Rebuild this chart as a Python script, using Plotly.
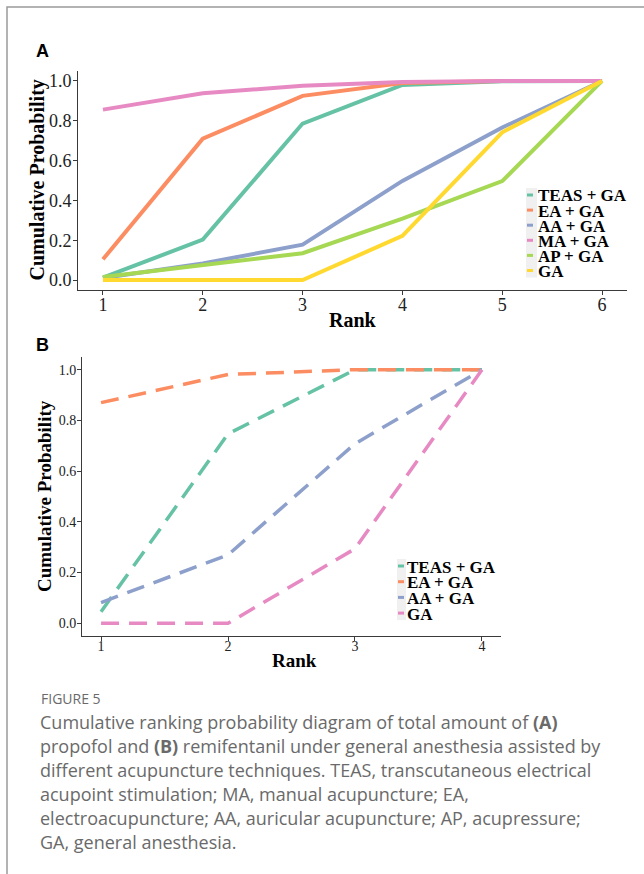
import plotly.graph_objects as go

W, H = 644, 874

# ---------------- data ----------------
ranks_a = [1, 2, 3, 4, 5, 6]
series_a_names = ["TEAS + GA", "EA + GA", "AA + GA", "MA + GA", "AP + GA", "GA"]
teas_a = [0.012, 0.203, 0.786, 0.980, 0.998, 1.0]
ea_a = [0.104, 0.710, 0.925, 0.990, 1.0, 1.0]
aa_a = [0.010, 0.083, 0.178, 0.498, 0.766, 1.0]
ma_a = [0.856, 0.938, 0.976, 0.995, 1.0, 1.0]
ap_a = [0.015, 0.073, 0.135, 0.309, 0.497, 1.0]
ga_a = [0.0, 0.0, 0.0, 0.222, 0.742, 1.0]

ranks_b = [1, 2, 3, 4]
series_b_names = ["TEAS + GA", "EA + GA", "AA + GA", "GA"]
teas_b = [0.046, 0.747, 1.0, 1.0]
ea_b = [0.870, 0.981, 1.0, 1.0]
aa_b = [0.082, 0.270, 0.708, 1.0]
ga_b = [0.0, 0.0, 0.294, 1.0]

yticks = [0.0, 0.2, 0.4, 0.6, 0.8, 1.0]

colors_a = ["#66C2A5", "#FC8D62", "#8DA0CB", "#E78AC3", "#A6D854", "#FFD92F"]
colors_b = ["#66C2A5", "#FC8D62", "#8DA0CB", "#E78AC3"]

x_title = "Rank"
y_title = "Cumulative Probability"
caption_title = "FIGURE 5"
caption_lines = [
    "Cumulative ranking probability diagram of total amount of <b>(A)</b>",
    "propofol and <b>(B)</b> remifentanil under general anesthesia assisted by",
    "different acupuncture techniques. TEAS, transcutaneous electrical",
    "acupoint stimulation; MA, manual acupuncture; EA,",
    "electroacupuncture; AA, auricular acupuncture; AP, acupressure;",
    "GA, general anesthesia.",
]

# ---------------- helpers ----------------
def px(x):
    return x / W


def py(y):
    return 1 - y / H


SERIF = "Liberation Serif, Times New Roman, serif"
SANS = "Liberation Sans, Arial, sans-serif"
CAP = "Open Sans, Noto Sans, sans-serif"
AXC = "#3a3a3a"

fig = go.Figure()

for name, vals, col in zip(series_a_names, [teas_a, ea_a, aa_a, ma_a, ap_a, ga_a], colors_a):
    fig.add_trace(go.Scatter(x=ranks_a, y=vals, mode="lines", name=name,
                             line=dict(color=col, width=4), showlegend=False,
                             xaxis="x", yaxis="y"))

for name, vals, col in zip(series_b_names, [teas_b, ea_b, aa_b, ga_b], colors_b):
    fig.add_trace(go.Scatter(x=ranks_b, y=vals, mode="lines", name=name,
                             line=dict(color=col, width=3.5, dash="18px,10px"),
                             showlegend=False, xaxis="x2", yaxis="y2"))

common_axis = dict(showline=True, linecolor=AXC, linewidth=1, ticks="outside",
                   ticklen=4, tickcolor=AXC, tickwidth=1, showgrid=False,
                   zeroline=False, automargin=False)

fig.update_layout(
    width=W, height=H,
    margin=dict(l=0, r=0, t=0, b=0),
    paper_bgcolor="white", plot_bgcolor="white",
    showlegend=False,
    xaxis=dict(domain=[px(78), px(627)], range=[0.75, 6.25], tickvals=ranks_a,
               anchor="y", tickfont=dict(family=SERIF, size=18, color="#222"),
               ticklabelstandoff=-6, **common_axis),
    yaxis=dict(domain=[py(290), py(71)], range=[-0.05, 1.05], tickvals=yticks,
               tickformat=".1f", anchor="x", ticklabelstandoff=-2,
               tickfont=dict(family=SERIF, size=18, color="#222"), **common_axis),
    xaxis2=dict(domain=[px(82), px(501)], range=[0.85, 4.15], tickvals=ranks_b,
                anchor="y2", tickfont=dict(family=SERIF, size=14, color="#222"),
                ticklabelstandoff=-7, **common_axis),
    yaxis2=dict(domain=[py(636), py(357)], range=[-0.05, 1.05], tickvals=yticks,
                tickformat=".1f", anchor="x2", ticklabelstandoff=-2,
                tickfont=dict(family=SERIF, size=14, color="#222"), **common_axis),
)

shapes = []
annotations = []

# outer frame (left and top edges visible)
shapes.append(dict(type="rect", xref="paper", yref="paper",
                   x0=px(7), x1=px(W + 20), y0=py(H + 20), y1=py(7),
                   line=dict(color="#9a9a9a", width=1.5), fillcolor="rgba(0,0,0,0)"))


def label(text, x, y, size, family=SERIF, angle=0, color="black", xanchor="center"):
    annotations.append(dict(text=text, x=px(x), y=py(y), xref="paper", yref="paper",
                            showarrow=False, xanchor=xanchor, yanchor="middle",
                            textangle=angle, font=dict(family=family, size=size, color=color)))


# panel labels
label("<b>A</b>", 42, 51, 18, family=SANS)
label("<b>B</b>", 42, 345, 18, family=SANS)

# axis titles
label("<b>%s</b>" % x_title, 352.5, 320, 20)
label("<b>%s</b>" % y_title, 37, 180.5, 20, angle=-90)
label("<b>%s</b>" % x_title, 294, 660, 19)
label("<b>%s</b>" % y_title, 45, 496, 19, angle=-90)


def add_legend(names, cols, key_x0, key_x1, bg_x0, bg_x1, y_first, step, text_x):
    n = len(names)
    shapes.append(dict(type="rect", xref="paper", yref="paper",
                       x0=px(bg_x0), x1=px(bg_x1),
                       y0=py(y_first + step * (n - 1) + 7), y1=py(y_first - 7),
                       line=dict(width=0), fillcolor="#F0F0F0", layer="above"))
    for i, (nm, c) in enumerate(zip(names, cols)):
        yc = y_first + step * i
        shapes.append(dict(type="line", xref="paper", yref="paper",
                           x0=px(key_x0), x1=px(key_x1), y0=py(yc), y1=py(yc),
                           line=dict(color=c, width=3), layer="above"))
        label("<b>%s</b>" % nm, text_x, yc + 1, 17, xanchor="left")


add_legend(series_a_names, colors_a, 527, 533, 526, 537, 195, 15.1, 536)
add_legend(series_b_names, colors_b, 398, 404, 397, 406, 566, 15.7, 405)

# caption
label(caption_title, 39, 698, 14, family=CAP, color="#6a6a6a", xanchor="left")
for i, line in enumerate(caption_lines):
    label(line, 38, 722 + 23.9 * i, 18, family=CAP, color="#6a6a6a", xanchor="left")

fig.update_layout(shapes=shapes, annotations=annotations)

fig.write_html("out.html",
               config={"displayModeBar": False},
               post_script="document.body.style.margin='0';"
                           "document.body.style.overflow='hidden';")
